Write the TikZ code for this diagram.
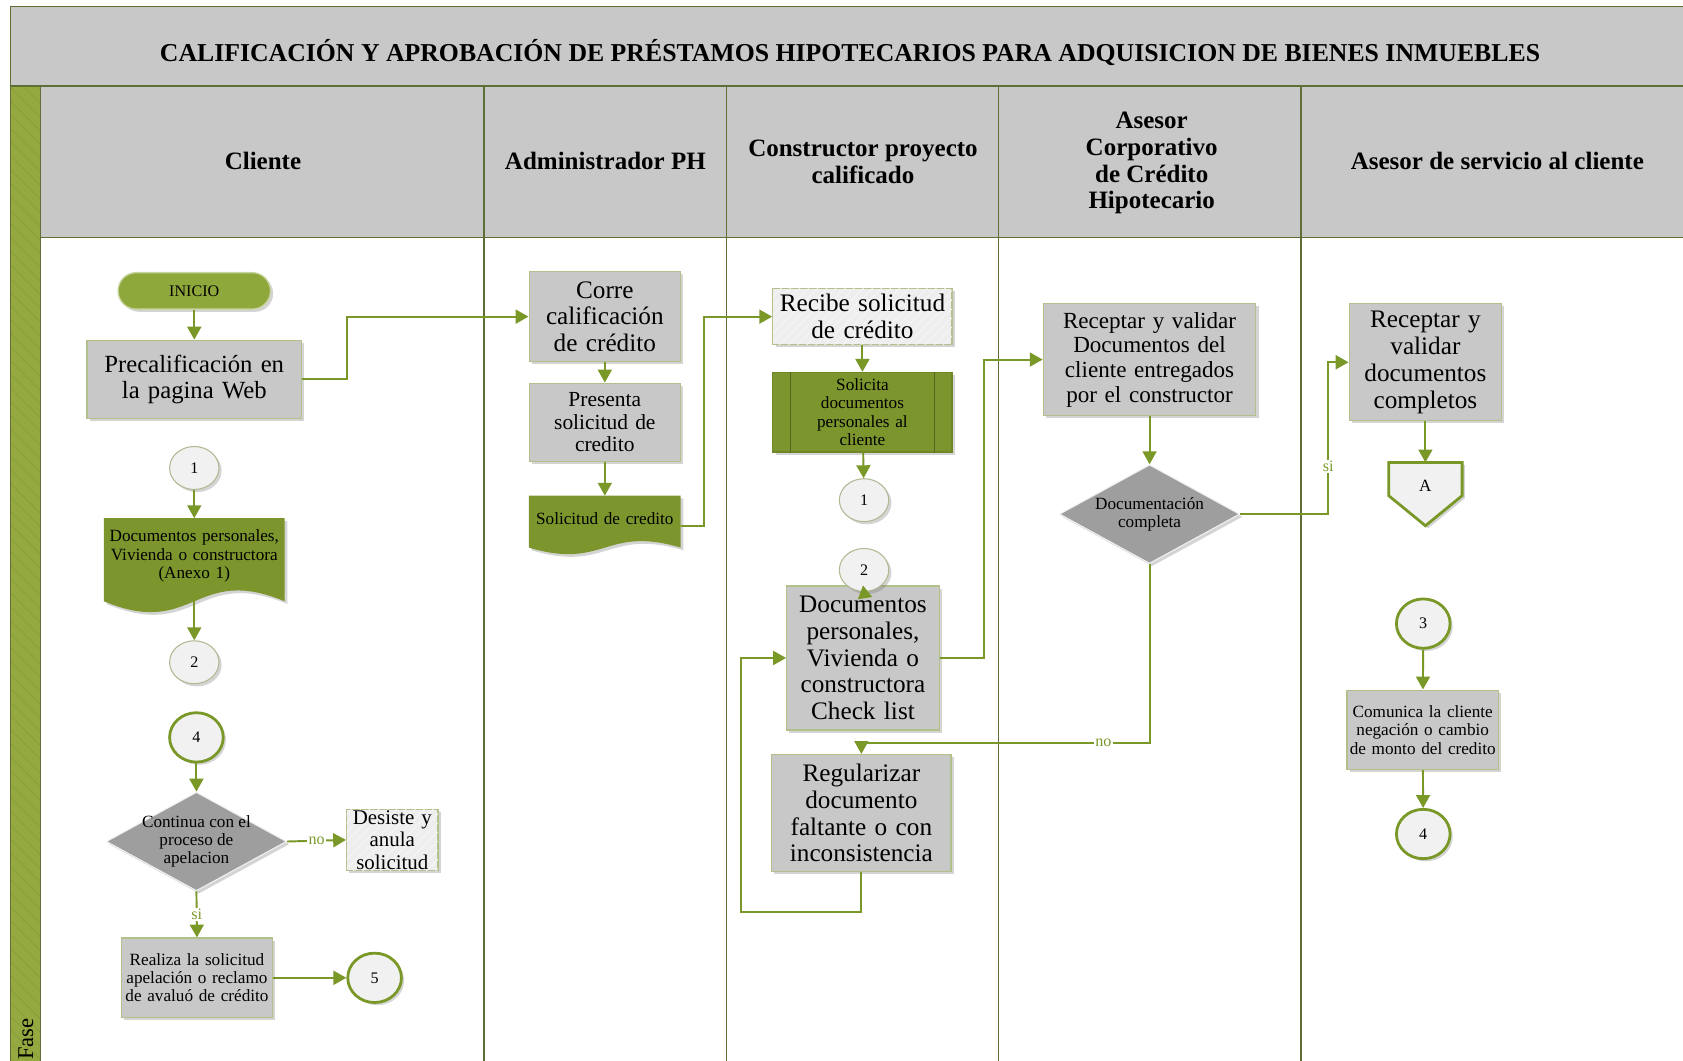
\documentclass[tikz,border=0pt]{standalone}
\usepackage{fontspec}
\setmainfont{Liberation Serif}
\usetikzlibrary{shapes.geometric,shadows,arrows.meta,patterns.meta,calc,backgrounds}

\definecolor{laneline}{RGB}{95,110,55}
\definecolor{hdrfill}{RGB}{200,200,200}
\definecolor{stripgreen}{RGB}{148,170,64}
\definecolor{stripdark}{RGB}{136,158,56}
\definecolor{arrowgreen}{RGB}{122,152,40}
\definecolor{docgreen}{RGB}{124,150,45}
\definecolor{iniciogreen}{RGB}{143,168,60}
\definecolor{inicioedge}{RGB}{200,212,160}
\definecolor{boxgray}{RGB}{200,200,200}
\definecolor{boxedge}{RGB}{178,192,138}
\definecolor{decgray}{RGB}{158,158,158}
\definecolor{circfill}{RGB}{241,241,241}
\definecolor{circedge}{RGB}{176,186,146}
\definecolor{lightfill}{RGB}{238,238,238}
\definecolor{lighthatch}{RGB}{247,247,247}

\newcommand{\fs}[2]{\fontsize{#1}{#2}\selectfont}

\tikzset{
  shad/.style={drop shadow={shadow xshift=2.5pt,shadow yshift=-2.5pt,opacity=0.28,fill=black!60}},
  proc/.style={rectangle, draw=boxedge, line width=1.2pt, fill=boxgray, shad,
               align=center, inner sep=3pt},
  lightproc/.style={proc, fill=lightfill,
               postaction={pattern={Lines[angle=45,distance=6pt,line width=0.7pt]},pattern color=lighthatch}},
  greenproc/.style={proc, fill=docgreen, draw=docgreen!90!black},
  docnode/.style={rectangle, inner sep=2pt, align=center},
  smallconn/.style={ellipse, fill=circfill, draw=circedge, line width=1pt, inner sep=0pt,
               minimum width=46pt, minimum height=40pt, shad, font=\fs{15}{16}},
  bigconn/.style={ellipse, fill=circfill, draw=arrowgreen, line width=2.6pt, inner sep=0pt,
               minimum width=50pt, minimum height=46pt, shad, font=\fs{15}{16}},
  decision/.style={diamond, minimum width=168pt, minimum height=92pt, inner sep=0pt,
               fill=decgray, draw=white!88!gray, line width=1pt, shad},
  startnode/.style={rectangle, rounded corners=17pt, fill=iniciogreen, draw=inicioedge,
               line width=1.2pt, minimum width=142pt, minimum height=34pt, shad, font=\fs{15}{16}},
  arr/.style={draw=arrowgreen, line width=1.8pt, -{Triangle[length=12pt,width=13pt]}},
  lbl/.style={font=\fs{15}{16}, text=arrowgreen, fill=white, inner sep=1pt},
  lanehead/.style={font=\bfseries\fs{23.3}{25}, align=center},
  frameline/.style={laneline, line width=1.3pt}
}

\begin{document}
\begin{tikzpicture}[x=1pt,y=-1pt]
\useasboundingbox (0,0) rectangle (1568,988);

% ---------- frame, title band, lane headers ----------
\path[fill=hdrfill] (10,6) rectangle (1580,80);
\path[fill=hdrfill] (38,80) rectangle (1580,221);
\path[fill=stripgreen,
      postaction={pattern={Lines[angle=-45,distance=9pt,line width=0.7pt]},pattern color=stripdark}]
      (10,80) rectangle (38,1000);
\draw[frameline] (1580,6) -- (10,6) -- (10,1000);
\draw[frameline] (10,80) -- (1580,80);
\draw[frameline] (38,221) -- (1580,221);
\foreach \x in {38,451,677,930,1212} \draw[frameline] (\x,80) -- (\x,1000);

\node[font=\bfseries\fs{24}{25}] (title) at (792,49)
  {CALIFICACIÓN Y APROBACIÓN DE PRÉSTAMOS HIPOTECARIOS PARA ADQUISICION DE BIENES INMUEBLES};

\node[lanehead] (hcli) at (245,150) {Cliente};
\node[lanehead] (hadm) at (564,150) {Administrador PH};
\node[lanehead] (hcon) at (804,151) {Constructor proyecto\\calificado};
\node[lanehead] (hase) at (1073,152) {Asesor\\Corporativo\\de Crédito\\Hipotecario};
\node[lanehead] (hser) at (1395,150) {Asesor de servicio al cliente};

\node[rotate=90, font=\fs{21}{22}] (fase) at (24,968) {Fase};

% ---------- Cliente ----------
\node[startnode] (inicio) at (181,271) {INICIO};
\node[proc, minimum width=200pt, minimum height=73pt, text width=192pt, font=\fs{23}{25}]
  (prec) at (181,353.5) {Precalificación en\\la pagina Web};
\node[smallconn] (c1a) at (181,436) {1};
\node[docnode, minimum width=168pt, minimum height=70pt, text width=164pt, font=\fs{16}{17}]
  (docA) at (181,518) {Documentos personales,\\Vivienda o constructora\\(Anexo 1)};
\node[smallconn] (c2a) at (181,617) {2};
\node[bigconn] (c4a) at (183,687) {4};
\node[decision, label={[font=\fs{16}{17}, align=center]center:{Continua con el\\proceso de\\apelacion}}]
  (dec1) at (183,784) {};
\node[lightproc, minimum width=85pt, minimum height=57pt, text width=82pt, inner sep=1pt, font=\fs{19.5}{21}]
  (des) at (365.5,782.5) {Desiste y\\anula\\solicitud};
\node[proc, minimum width=141pt, minimum height=74pt, text width=137pt, inner sep=2pt, font=\fs{16}{17}]
  (real) at (183.5,911) {Realiza la solicitud\\apelación o reclamo\\de avaluó de crédito};
\node[bigconn] (c5) at (349,911) {5};

% ---------- Administrador PH ----------
\node[proc, minimum width=141pt, minimum height=84pt, text width=135pt, font=\fs{23.5}{25}]
  (corre) at (563.5,295) {Corre\\calificación\\de crédito};
\node[proc, minimum width=141pt, minimum height=73pt, text width=135pt, font=\fs{20}{21}]
  (pres) at (563.5,393.5) {Presenta\\solicitud de\\credito};
\node[docnode, minimum width=141pt, minimum height=42pt, text width=137pt, font=\fs{16}{17}]
  (docB) at (563.5,483) {Solicitud de credito};

% ---------- Constructor proyecto calificado ----------
\node[lightproc, minimum width=167pt, minimum height=52pt, text width=163pt, inner sep=1pt, font=\fs{23.5}{25}]
  (recibe) at (803.5,295) {Recibe solicitud\\de crédito};
\node[greenproc, minimum width=167pt, minimum height=74pt, text width=125pt, font=\fs{16}{17.3}]
  (solic) at (803.5,384) {Solicita\\documentos\\personales al\\cliente};
\node[smallconn] (c1b) at (805,466) {1};
\node[proc, minimum width=142pt, minimum height=134pt, text width=138pt, inner sep=2pt, font=\fs{23.5}{25}]
  (docsck) at (804,613) {Documentos\\personales,\\Vivienda o\\constructora\\Check list};
\node[smallconn] (c2b) at (805,531) {2};
\node[proc, minimum width=167pt, minimum height=109pt, text width=163pt, inner sep=2pt, font=\fs{23.5}{25}]
  (regul) at (802.5,757.5) {Regularizar\\documento\\faltante o con\\inconsistencia};

% ---------- Asesor Corporativo de Crédito Hipotecario ----------
\node[proc, minimum width=198pt, minimum height=104pt, text width=194pt, inner sep=2pt, font=\fs{21.5}{23}]
  (recv) at (1071,335) {Receptar y validar\\Documentos del\\cliente entregados\\por el constructor};
\node[decision, label={[font=\fs{16}{17}, align=center]center:{Documentación\\completa}}]
  (dec2) at (1071,479) {};

% ---------- Asesor de servicio al cliente ----------
\node[proc, minimum width=142pt, minimum height=109pt, text width=138pt, inner sep=2pt, font=\fs{23.5}{25}]
  (recvc) at (1328,337.5) {Receptar y\\validar\\documentos\\completos};
\node[rectangle, minimum width=68pt, minimum height=44pt, inner sep=0pt, font=\fs{16}{17}]
  (offA) at (1328,453) {A};
\node[bigconn] (c3) at (1326,581) {3};
\node[proc, minimum width=141pt, minimum height=74pt, text width=139pt, inner sep=1pt, font=\fs{16}{17}]
  (comun) at (1325.5,680) {Comunica la cliente\\negación o cambio\\de monto del credito};
\node[bigconn] (c4b) at (1326,777) {4};

% ---------- shapes drawn behind their text ----------
\begin{scope}[on background layer]
  \fill[docgreen, shad] (docA.north west) -- (docA.north east) -- ($(docA.south east)+(0,7)$)
    .. controls ($(docA.south)+(0,-28)$) and ($(docA.south)+(0,42)$) .. ($(docA.south west)+(0,7)$) -- cycle;
  \fill[docgreen, shad] (docB.north west) -- (docB.north east) -- ($(docB.south east)+(0,6)$)
    .. controls ($(docB.south)+(0,-15)$) and ($(docB.south)+(0,27)$) .. ($(docB.south west)+(0,6)$) -- cycle;
  \draw[fill=circfill, draw=arrowgreen, line width=2.6pt, line join=miter, shad]
    (offA.north west) -- (offA.north east) -- ($(offA.north east)+(0,31)$)
    -- ($(offA.north)+(0,59)$) -- ($(offA.north west)+(0,31)$) -- cycle;
\end{scope}

% inner bars of the predefined process
\draw[docgreen!70!black, line width=0.8pt]
  ($(solic.north west)+(17,0)$) -- ($(solic.south west)+(17,0)$)
  ($(solic.north east)+(-17,0)$) -- ($(solic.south east)+(-17,0)$);

% ---------- connectors ----------
\draw[arr] (inicio) -- (prec);
\draw[arr] (prec.east) -- ++(42,0) |- (corre.west);
\draw[arr] (c1a) -- (docA.north);
\draw[arr] (docA.south) -- (c2a);
\draw[arr] (c4a) -- (dec1);
\draw[arr] (dec1.east) -- node[lbl]{no} (des.west);
\draw[arr] (dec1.south) -- node[lbl, pos=0.5]{si} (real.north);
\draw[arr] (real.east) -- (c5.west);

\draw[arr] (corre) -- (pres);
\draw[arr] (pres) -- (docB.north);
\draw[arr] ($(docB.east)+(0,7)$) -- ++(22,0) |- (recibe.west);

\draw[arr] (recibe) -- (solic);
\draw[arr] (solic) -- (c1b);
\draw[arr] (c2b.south) -- (docsck.north);
\draw[arr] (docsck.east) -- ++(41,0) |- (recv.west);
\draw[arr] (regul.south) -- ++(0,37) -- ++(-112,0) |- (docsck.west);

\draw[arr] (recv) -- (dec2);
\draw[arr] (dec2.south) |- node[lbl, pos=0.58]{no} ($(regul.north)+(0,-10)$) -- (regul.north);
\draw[arr] (dec2.east) -- ++(82,0) |- node[lbl, pos=0.157]{si} (recvc.west);

\draw[arr] (recvc) -- (offA.north);
\draw[arr] (c3) -- (comun);
\draw[arr] (comun) -- (c4b);
\end{tikzpicture}
\end{document}
